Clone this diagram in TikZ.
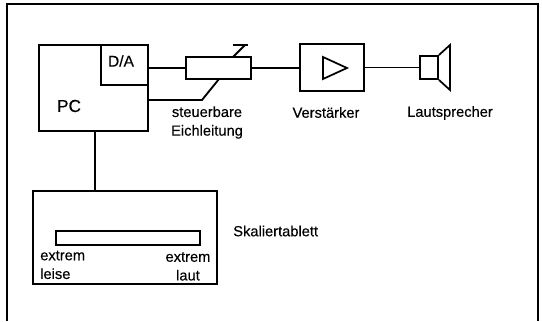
\documentclass[tikz,border=0pt]{standalone}
\usepackage{fontspec}
\setmainfont[FakeBold=0.3,AutoFakeBold=false,RawFeature={embolden=0.3}]{Liberation Sans}
\usepackage{tikz}

\tikzset{
    block/.style={draw, line width=1.4pt, inner sep=0pt},
    wire/.style={line width=1.4pt},
    lbl/.style={font=\fontsize{11}{13}\selectfont, inner sep=0pt, align=center}
}

\begin{document}
\begin{tikzpicture}[x=0.75pt, y=-0.75pt]
        \useasboundingbox (0,0) rectangle (542,321);

        % Rahmen, unten offen
        \draw[line width=1.1pt] (7,321) -- (7,4) -- (538,4) -- (538,321);

        % Rechner mit Wandler
        \node[block, minimum width=81.75pt, minimum height=64.5pt] (pc) at (93.5,88) {};
        \node[block, minimum width=35.25pt, minimum height=30pt] (da) at (124.5,65) {};
        \node[font=\fontsize{11.7}{14}\selectfont, inner sep=0pt] (dalabel) at (121,61) {D/A};
        \node[font=\fontsize{13}{15}\selectfont, inner sep=0pt] (pclabel) at (69,106) {PC};

        % Eichleitung
        \node[block, minimum width=48.75pt, minimum height=16.5pt] (att) at (218.5,68) {};
        \coordinate (wipertop) at (233,45);
        \coordinate (wiperfoot) at (219,79);
        \coordinate (ctrlbend) at (202,100);
        \draw[wire] (da.east |- att.west) -- (att.west);
        \draw[wire] (233,57) -- (245,45);
        \draw[wire] (wipertop) -- (248,45);
        \draw[wire] (pc.east |- ctrlbend) -- (ctrlbend) -- (wiperfoot);
        \node[lbl] (attlabel) at (207,122.5) {steuerbare\\[1pt]Eichleitung};

        % Verstaerker
        \node[block, minimum width=48pt, minimum height=35.25pt] (amp) at (332,67.5) {};
        \draw[line width=1.3pt] (323,57) -- (323,79) -- (347,68) -- cycle;
        \draw[wire] (att.east) -- (att.east -| amp.west);
        \node[lbl] (amplabel) at (326,112.5) {Verstärker};

        % Lautsprecher
        \node[block, minimum width=13.5pt, minimum height=17.25pt] (spk) at (429,67.5) {};
        \draw[line width=1.3pt] (spk.north east) -- (450,45) -- (450,90) -- (spk.south east);
        \draw[line width=1.1pt] (amp.east) -- (spk.west);
        \node[lbl] (spklabel) at (450,113) {Lautsprecher};

        % Skaliertablett
        \node[block, minimum width=138pt, minimum height=69.75pt] (tablet) at (125,237.5) {};
        \node[block, minimum width=108pt, minimum height=10.5pt] (scale) at (128,238) {};
        \coordinate (pcfoot) at (95,131);
        \draw[wire] (pcfoot) -- (pcfoot |- tablet.north);
        \node[lbl, anchor=west] (tabletlabel) at (233,231) {Skaliertablett};
        \node[lbl, align=left, anchor=north west] (leise) at (40,250.5) {extrem\\[1pt]leise};
        \node[lbl, anchor=north] (laut) at (188,252) {extrem\\[1pt]laut};
\end{tikzpicture}
\end{document}
